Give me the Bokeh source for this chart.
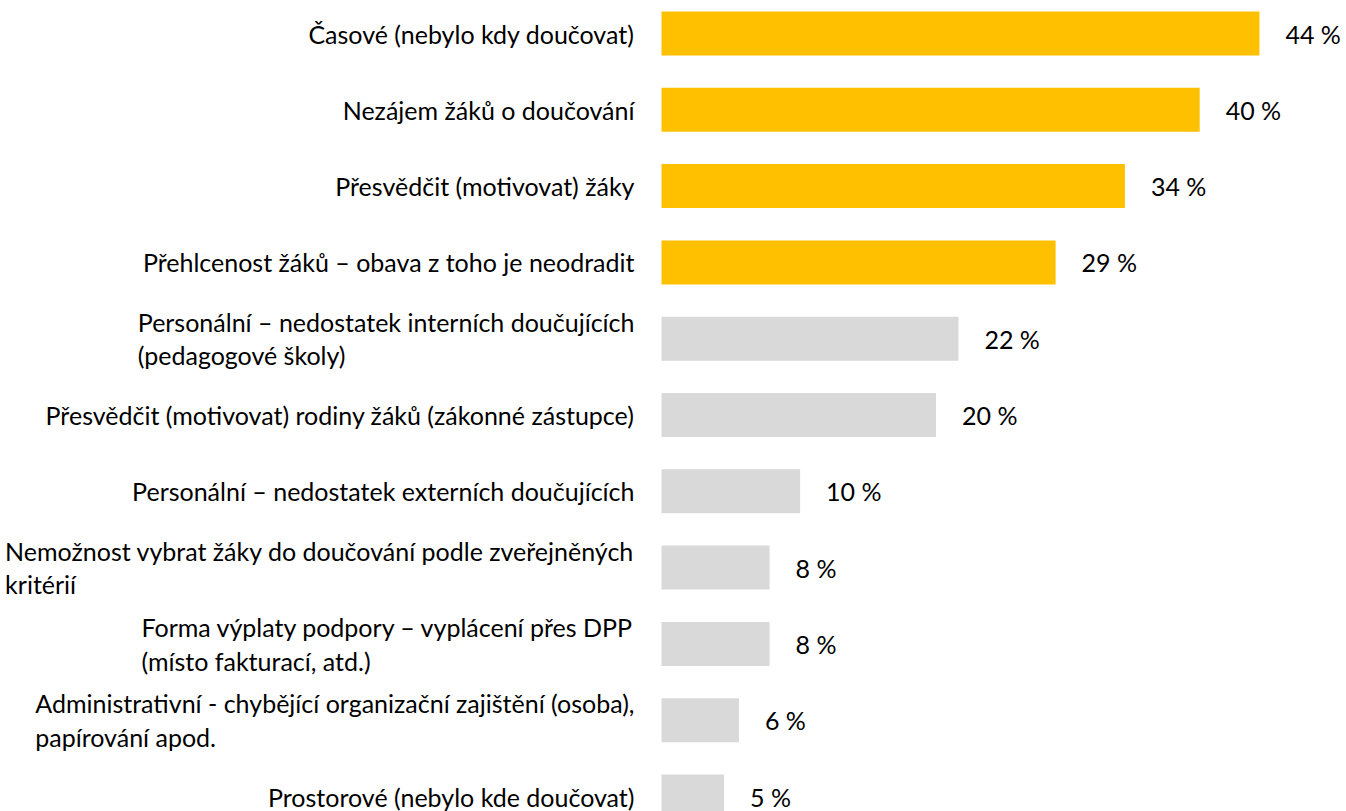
from bokeh.plotting import figure
from bokeh.models import ColumnDataSource, Range1d
from bokeh.core.properties import value
from bokeh.embed import file_html
from bokeh.resources import INLINE

categories = [
    "Časové (nebylo kdy doučovat)",
    "Nezájem žáků o doučování",
    "Přesvědčit (motivovat) žáky",
    "Přehlcenost žáků – obava z toho je neodradit",
    "Personální – nedostatek interních doučujících\n(pedagogové školy)",
    "Přesvědčit (motivovat) rodiny žáků (zákonné zástupce)",
    "Personální – nedostatek externích doučujících",
    "Nemožnost vybrat žáky do doučování podle zveřejněných\nkritérií",
    "Forma výplaty podpory – vyplácení přes DPP\n(místo fakturací, atd.)",
    "Administrativní - chybějící organizační zajištění (osoba),\npapírování apod.",
    "Prostorové (nebylo kde doučovat)",
]
values = [44.0, 39.6, 34.1, 29.0, 21.85, 20.2, 10.2, 7.95, 7.95, 5.7, 4.6]
pct_labels = ["44 %", "40 %", "34 %", "29 %", "22 %", "20 %", "10 %", "8 %", "8 %", "6 %", "5 %"]
highlighted = [True, True, True, True, False, False, False, False, False, False, False]

YELLOW = "#FFC000"
GRAY = "#D9D9D9"
FONT = "Lato"

W, H = 1346, 811
px_per_unit = 13.59
x0_page = 661
x_start = -x0_page / px_per_unit
x_end = (W - x0_page) / px_per_unit

spacing = 76.3
first_center = 33
y_top = -first_center / spacing
y_bottom = (H - first_center) / spacing

idx = list(range(len(categories)))
src = ColumnDataSource(dict(
    y=idx,
    v=values,
    cat=categories,
    lab=pct_labels,
    color=[YELLOW if h else GRAY for h in highlighted],
    zero=[0] * len(idx),
))

p = figure(width=W, height=H, output_backend="svg", toolbar_location=None,
           x_range=Range1d(x_start, x_end), y_range=Range1d(y_bottom, y_top),
           min_border=0, outline_line_color=None)
p.axis.visible = False
p.grid.visible = False

p.hbar(y="y", left=0, right="v", height=44 / spacing, color="color",
       line_color=None, source=src)

p.text(x="zero", y="y", text="cat", source=src, x_offset=-27,
       anchor=value("center_right"), text_align="left", text_baseline="middle",
       text_font=value(FONT), text_font_size="25px", text_color="#000000",
       text_line_height=1.12)

p.text(x="v", y="y", text="lab", source=src, x_offset=26,
       text_align="left", text_baseline="middle",
       text_font=value(FONT), text_font_size="25px", text_color="#000000")

open("out.html", "w").write(file_html(p, INLINE))
